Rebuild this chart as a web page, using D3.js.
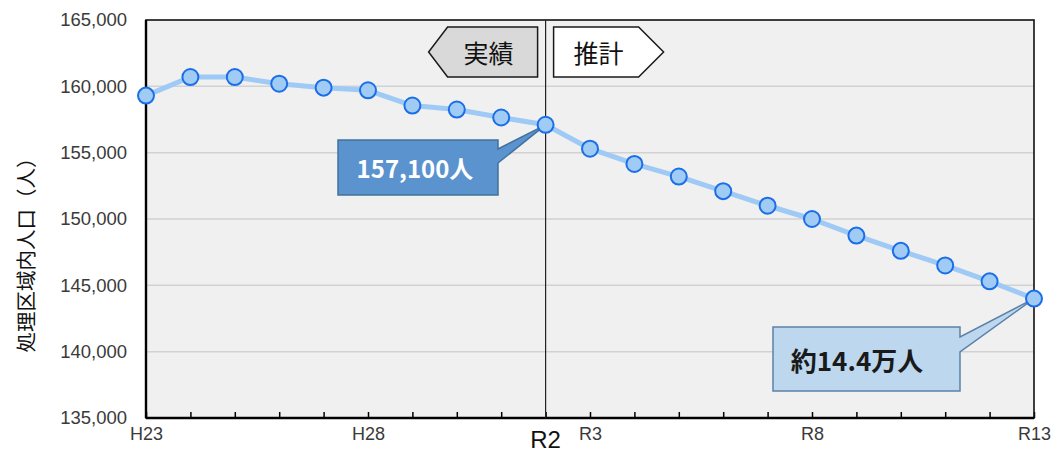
<!DOCTYPE html>
<html>
<head>
<meta charset="utf-8">
<script src="https://cdn.jsdelivr.net/npm/d3@7"></script>
<style>
  html, body { margin: 0; padding: 0; background: #fff; }
  svg { display: block; }
  text { font-family: "Liberation Sans", Arial, sans-serif; }
  text.jp { font-family: "Noto Sans CJK JP", sans-serif; }
</style>
</head>
<body>
<svg id="chart" width="1058" height="453"></svg>
<script>
// Fiscal years H23 … R13
const years = ["H23","H24","H25","H26","H27","H28","H29","H30","R1","R2",
               "R3","R4","R5","R6","R7","R8","R9","R10","R11","R12","R13"];
// Population in the treatment area (persons)
const population = [159300,160700,160700,160200,159900,159700,158550,158250,157650,157100,
                    155300,154150,153200,152100,151000,150000,148750,147600,146500,145300,144000];
const labeledYears = ["H23","H28","R3","R8","R13"];
const splitYear = "R2";
const yTicks = [135000,140000,145000,150000,155000,160000,165000];
const yTitle = "処理区域内人口（人）";
const actualLabel = "実績";
const forecastLabel = "推計";
const splitCallout = "157,100人";
const endCallout = "約14.4万人";

const svg = d3.select("#chart");
const m = { left: 146, right: 1034, top: 20, bottom: 418 };

const x = d3.scalePoint().domain(years).range([m.left, m.right]);
const y = d3.scaleLinear().domain([135000,165000]).range([m.bottom, m.top]);

// plot background
svg.append("rect").attr("x", m.left).attr("y", m.top)
  .attr("width", m.right - m.left).attr("height", m.bottom - m.top)
  .attr("fill", "#f0f0f0");

// horizontal gridlines
svg.append("g").selectAll("line").data(yTicks.filter(v => v > 135000 && v < 165000)).join("line")
  .attr("x1", m.left).attr("x2", m.right)
  .attr("y1", d => y(d)).attr("y2", d => y(d))
  .attr("stroke", "#d2d2d2").attr("stroke-width", 1.5);

// y axis labels
const fmt = d3.format(",");
const yAxis = d3.axisLeft(y).tickValues(yTicks).tickFormat(fmt).tickSize(0).tickPadding(19);
const gy = svg.append("g").attr("transform", `translate(${m.left},0)`).call(yAxis);
gy.select(".domain").remove();
gy.selectAll("text").attr("font-size", 18.5).attr("fill", "#3a3a3a");

// x axis: inward ticks at every year
const xAxis = d3.axisBottom(x).tickSize(-6).tickFormat(d => (labeledYears.includes(d) ? d : ""));
const gx = svg.append("g").attr("transform", `translate(0,${m.bottom})`).call(xAxis);
gx.select(".domain").remove();
gx.selectAll(".tick line").attr("stroke", "#000").attr("stroke-width", 1.5);
gx.selectAll("text").attr("font-size", 18).attr("fill", "#3a3a3a").attr("dy", "1.05em");

// emphasised split-year label
svg.append("text").attr("x", x(splitYear)).attr("y", 448)
  .attr("text-anchor", "middle").attr("font-size", 24).attr("fill", "#111")
  .text(splitYear);

// frame
svg.append("rect").attr("x", m.left).attr("y", m.top)
  .attr("width", m.right - m.left).attr("height", m.bottom - m.top)
  .attr("fill", "none").attr("stroke", "#111").attr("stroke-width", 1.6);
svg.append("line").attr("x1", m.left).attr("x2", m.left).attr("y1", m.top).attr("y2", m.bottom)
  .attr("stroke", "#000").attr("stroke-width", 2.4);
svg.append("line").attr("x1", m.left).attr("x2", m.right).attr("y1", m.bottom).attr("y2", m.bottom)
  .attr("stroke", "#000").attr("stroke-width", 2.4);

// actual / forecast divider
svg.append("line").attr("x1", x(splitYear)).attr("x2", x(splitYear))
  .attr("y1", m.top).attr("y2", m.bottom)
  .attr("stroke", "#222").attr("stroke-width", 1.2);

// y axis title
svg.append("text").attr("class", "jp")
  .attr("transform", `translate(25,250) rotate(-90)`)
  .attr("text-anchor", "middle").attr("dominant-baseline", "central")
  .attr("font-size", 20.5).attr("fill", "#111")
  .text(yTitle);

// direction arrows: 実績 (left) and 推計 (right)
const xs = x(splitYear);
const arrowTop = 27, arrowBot = 77, arrowMid = (arrowTop + arrowBot) / 2;
const leftArrow = [[xs - 8, arrowTop], [xs - 98, arrowTop], [xs - 117, arrowMid],
                   [xs - 98, arrowBot], [xs - 8, arrowBot]];
const rightArrow = [[xs + 8, arrowTop], [xs + 93, arrowTop], [xs + 118, arrowMid],
                    [xs + 93, arrowBot], [xs + 8, arrowBot]];
svg.append("polygon").attr("points", leftArrow.map(p => p.join(",")).join(" "))
  .attr("fill", "#d9d9d9").attr("stroke", "#1a1a1a").attr("stroke-width", 1.5);
svg.append("polygon").attr("points", rightArrow.map(p => p.join(",")).join(" "))
  .attr("fill", "#ffffff").attr("stroke", "#1a1a1a").attr("stroke-width", 1.5);
svg.append("text").attr("class", "jp").attr("x", xs - 57).attr("y", arrowMid)
  .attr("text-anchor", "middle").attr("dominant-baseline", "central")
  .attr("font-size", 25).attr("fill", "#111").text(actualLabel);
svg.append("text").attr("class", "jp").attr("x", xs + 53).attr("y", arrowMid)
  .attr("text-anchor", "middle").attr("dominant-baseline", "central")
  .attr("font-size", 25).attr("fill", "#111").text(forecastLabel);

// population line
const line = d3.line().x((d, i) => x(years[i])).y(d => y(d));
svg.append("path").datum(population).attr("d", line)
  .attr("fill", "none").attr("stroke", "#9ecaf5").attr("stroke-width", 5)
  .attr("stroke-linejoin", "round");

// callout with a pointer to a data point
function callout(opts) {
  const { bx, by, bw, bh, py1, py2, tx, ty, fill, stroke, text, color, cx, size } = opts;
  const r = bx + bw;
  const pts = [[bx, by], [r, by], [r, py1], [tx, ty], [r, py2], [r, by + bh], [bx, by + bh]];
  svg.append("polygon").attr("points", pts.map(p => p.join(",")).join(" "))
    .attr("fill", fill).attr("stroke", stroke).attr("stroke-width", 1.5);
  svg.append("text").attr("class", "jp")
    .attr("x", cx).attr("y", by + bh / 2)
    .attr("text-anchor", "middle").attr("dominant-baseline", "central")
    .attr("font-size", size).attr("font-weight", "bold").attr("fill", color)
    .text(text);
}

const iSplit = years.indexOf(splitYear);
callout({ bx: 338, by: 140, bw: 160, bh: 55, py1: 149, py2: 163,
          tx: x(splitYear), ty: y(population[iSplit]), cx: 415, size: 24,
          fill: "#5b93cf", stroke: "#41719c", text: splitCallout, color: "#ffffff" });
const iEnd = years.length - 1;
callout({ bx: 773, by: 327, bw: 187, bh: 64, py1: 337, py2: 352,
          tx: x(years[iEnd]), ty: y(population[iEnd]), cx: 857, size: 26,
          fill: "#bdd7ee", stroke: "#5b82a8", text: endCallout, color: "#1a1a1a" });

// markers
svg.append("g").selectAll("circle").data(population).join("circle")
  .attr("cx", (d, i) => x(years[i])).attr("cy", d => y(d)).attr("r", 8)
  .attr("fill", "#9fcbf5").attr("stroke", "#1a6ee8").attr("stroke-width", 2);
</script>
</body>
</html>
